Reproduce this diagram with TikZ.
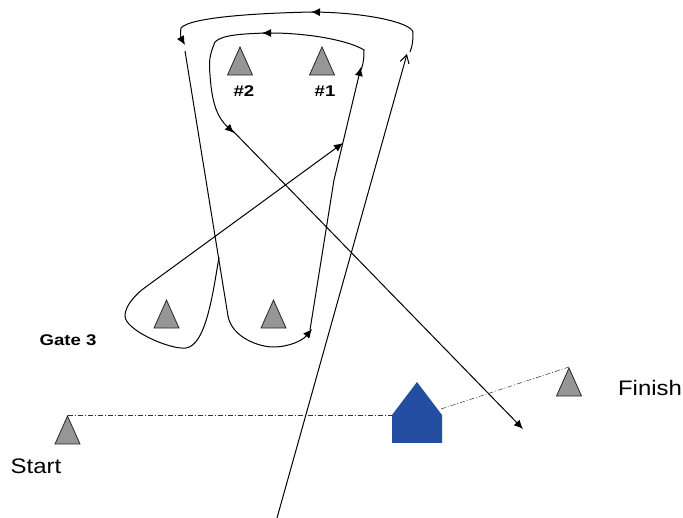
\documentclass[tikz,border=0pt]{standalone}
\usepackage{xcolor}
\usepackage{fontspec}
\setmainfont{Liberation Sans}
\usetikzlibrary{arrows.meta,shapes.geometric}
\definecolor{gatefill}{RGB}{150,150,150}
\definecolor{boatblue}{RGB}{35,78,162}
\tikzset{
    gate/.style={isosceles triangle, isosceles triangle stretches, shape border rotate=90, anchor=apex, draw=black!85, fill=gatefill, line width=0.8pt, minimum width=25pt, minimum height=28pt, inner sep=0pt},
    course/.style={line width=1pt, black},
    tip/.style={-{Latex[length=9pt,width=8pt]}},
    openend/.style={-{Straight Barb[length=8pt,width=9pt]}},
    startline/.style={line width=0.5pt, dash pattern=on 5pt off 2pt on 1pt off 2pt, black!80},
    biglabel/.style={font=\fontsize{21}{24}\selectfont, xscale=1.14, inner sep=0pt},
    gatelabel/.style={font=\fontsize{15.5}{18}\selectfont\bfseries, xscale=1.2, inner sep=0pt}
}
\begin{document}
\begin{tikzpicture}[x=1pt,y=-1pt]
    \useasboundingbox (0,0) rectangle (683,518);

    % gates and start line marks
    \node[gate] (gateone) at (322,46) {};
    \node[gate] (gatetwo) at (240,46) {};
    \node[gate] (gateleft) at (166.5,299) {};
    \node[gate] (gateright) at (273.5,299) {};
    \node[gate] (startmark) at (67.5,415) {};
    \node[gate] (finishmark) at (569,367) {};

    % committee boat
    \fill[boatblue] (392,415) -- (417,382) -- (442,415) -- (442,443) -- (392,443) -- cycle;
    \coordinate (boatleft) at (392,415);
    \coordinate (boatright) at (441,409);

    \draw[startline] (startmark.apex) -- (boatleft);
    \draw[startline] (boatright) -- (finishmark.apex);

    % labels
    \node[gatelabel] (labelone) at (325,91) {\#1};
    \node[gatelabel] (labeltwo) at (244,91) {\#2};
    \node[gatelabel] (labelgate) at (68,340) {Gate 3};
    \node[biglabel] (labelstart) at (36,466) {Start};
    \node[biglabel] (labelfinish) at (650,388) {Finish};

    % course
    \draw[course,openend] (277,518) -- (407,54);
    \draw[course,tip] (410,52) .. controls (413,45) and (413,38) .. (413,32) .. controls (410,22) and (365,13) .. (311,12);
    \draw[course,tip] (313,12) .. controls (260,13) and (190,17) .. (181,28) .. controls (180,33) and (181,38) .. (185,45);
    \draw[course,tip] (185,51) -- (228,316) .. controls (232,338) and (260,347) .. (273,347) .. controls (290,347) and (303,340) .. (312,329);
    \draw[course,tip] (310,330) -- (334,180) -- (361,67);
    \draw[course,tip] (361,70) .. controls (364,62) and (364,56) .. (364,50) .. controls (350,41) and (310,33) .. (262,33);
    \draw[course,tip] (265,33) .. controls (240,34) and (222,35) .. (215,42) .. controls (209,56) and (209,62) .. (210,75) .. controls (212,105) and (218,118) .. (234,133);
    \draw[course,tip] (232,130) -- (523,429);
    \draw[course,tip] (219,257) .. controls (212,300) and (205,345) .. (186,348) .. controls (170,350) and (125,330) .. (125,316) .. controls (125,307) and (133,297) .. (143,289) -- (343,143);
\end{tikzpicture}
\end{document}
